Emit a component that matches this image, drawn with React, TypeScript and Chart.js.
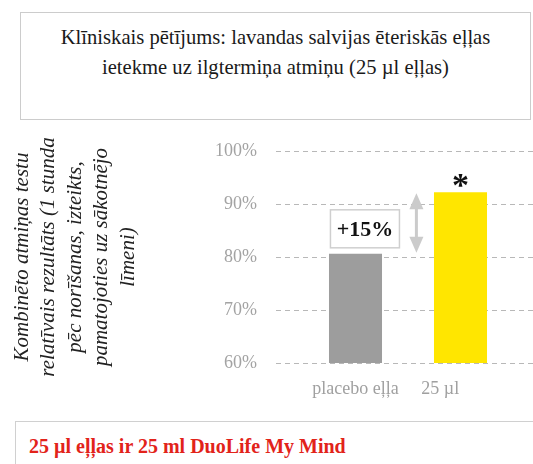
import React, { useEffect, useRef } from "react";
import { Chart, registerables } from "chart.js";

Chart.register(...registerables);

const categories = ["placebo eļļa", "25 µl"];
const values = [80.6, 92.2];
const barColors = ["#9d9d9d", "#ffe600"];
const yTicks = [60, 70, 80, 90, 100];
const yTitleLines = [
  "Kombinēto atmiņas testu",
  "relatīvais rezultāts (1 stunda",
  "pēc norīšanas, izteikts,",
  "pamatojoties uz sākotnējo",
  "līmeni)",
];
const titleLines = [
  "Klīniskais pētījums: lavandas salvijas ēteriskās eļļas",
  "ietekme uz ilgtermiņa atmiņu (25 µl eļļas)",
];
const diffLabel = "+15%";
const starLabel = "*";
const footnote = "25 µl eļļas ir 25 ml DuoLife My Mind";

const FONT = "'Liberation Serif', 'Times New Roman', serif";
const W = 533;
const H = 410;

const annotations = {
  id: "annotations",
  beforeDatasetsDraw(chart: any) {
    const { ctx, chartArea, scales } = chart;
    const y = scales.y;
    ctx.save();
    ctx.strokeStyle = "#b8b8b8";
    ctx.lineWidth = 1;
    ctx.setLineDash([5, 4]);
    for (const t of yTicks) {
      const py = Math.round(y.getPixelForValue(t)) + 0.5;
      ctx.beginPath();
      ctx.moveTo(chartArea.left - 27, py);
      ctx.lineTo(chart.width, py);
      ctx.stroke();
    }
    ctx.restore();
  },
  afterDatasetsDraw(chart: any) {
    const { ctx, scales } = chart;
    const x = scales.x;
    const y = scales.y;
    const yLow = y.getPixelForValue(values[0]);
    const yHigh = y.getPixelForValue(values[1]);

    // double arrow
    const ax = x.getPixelForValue(0.58);
    const headH = 16;
    const headW = 14;
    ctx.save();
    ctx.fillStyle = "#cbcbcb";
    ctx.strokeStyle = "#cbcbcb";
    ctx.lineWidth = 3;
    ctx.beginPath();
    ctx.moveTo(ax, yHigh + headH - 2);
    ctx.lineTo(ax, yLow - headH + 2);
    ctx.stroke();
    ctx.beginPath();
    ctx.moveTo(ax, yHigh + 1);
    ctx.lineTo(ax - headW / 2, yHigh + 1 + headH);
    ctx.lineTo(ax + headW / 2, yHigh + 1 + headH);
    ctx.closePath();
    ctx.fill();
    ctx.beginPath();
    ctx.moveTo(ax, yLow - 1);
    ctx.lineTo(ax - headW / 2, yLow - 1 - headH);
    ctx.lineTo(ax + headW / 2, yLow - 1 - headH);
    ctx.closePath();
    ctx.fill();
    ctx.restore();

    // +15% box
    const bx = x.getPixelForValue(0.09);
    const bw = 69;
    const bh = 38;
    const bBottom = yLow - 6;
    ctx.save();
    ctx.fillStyle = "#ffffff";
    ctx.strokeStyle = "#cfcfcf";
    ctx.lineWidth = 1.5;
    ctx.fillRect(bx - bw / 2, bBottom - bh, bw, bh);
    ctx.strokeRect(bx - bw / 2, bBottom - bh, bw, bh);
    ctx.fillStyle = "#111111";
    ctx.font = `bold 22px ${FONT}`;
    ctx.textAlign = "center";
    ctx.textBaseline = "middle";
    ctx.fillText(diffLabel, bx, bBottom - bh / 2 + 1);
    ctx.restore();

    // asterisk
    const sx = x.getPixelForValue(1);
    ctx.save();
    ctx.fillStyle = "#111111";
    ctx.font = `bold 34px ${FONT}`;
    ctx.textAlign = "center";
    ctx.textBaseline = "alphabetic";
    ctx.fillText(starLabel, sx, yHigh + 4);
    ctx.restore();
  },
};

function BarChart() {
  const ref = useRef<HTMLCanvasElement | null>(null);
  useEffect(() => {
    if (!ref.current) return;
    const chart = new Chart(ref.current, {
      type: "bar",
      data: {
        labels: categories,
        datasets: [
          {
            data: values,
            backgroundColor: barColors,
            borderWidth: 0,
            categoryPercentage: 1,
            barPercentage: 0.505,
          },
        ],
      },
      options: {
        responsive: false,
        animation: false,
        layout: { padding: { top: 151, right: 20, bottom: 0, left: 0 } },
        plugins: { legend: { display: false }, tooltip: { enabled: false }, title: { display: false } },
        scales: {
          x: {
            grid: { display: false, drawTicks: false },
            border: { display: false },
            ticks: {
              color: "#a0a0a0",
              font: { family: FONT, size: 18 },
              padding: 15,
              maxRotation: 0,
              autoSkip: false,
              callback: (_v: any, i: number) =>
                i === 1 ? categories[i] + "\u00a0".repeat(9) : categories[i],
            },
            afterFit: (s: any) => {
              s.height = H - 363;
            },
          },
          y: {
            min: 60,
            max: 100,
            afterBuildTicks: (s: any) => {
              s.ticks = yTicks.map((v) => ({ value: v }));
            },
            grid: { display: false, drawTicks: true, tickLength: 27 },
            border: { display: false },
            ticks: {
              color: "#a3a3a3",
              font: { family: FONT, size: 18 },
              padding: 19,
              callback: (v: any) => v + "%",
            },
            title: {
              display: true,
              text: yTitleLines,
              color: "#222222",
              font: { family: FONT, size: 21, style: "italic", lineHeight: "26.5px" },
              padding: { top: 9, bottom: 0 },
            },
            afterFit: (s: any) => {
              s.width = 303;
            },
          },
        },
      },
      plugins: [annotations],
    });
    return () => chart.destroy();
  }, []);
  return <canvas ref={ref} width={W} height={H} style={{ position: "absolute", left: 0, top: 0 }} />;
}

export default function App() {
  return (
    <div style={{ position: "absolute", left: 0, top: 0, width: 533, height: 464, overflow: "hidden", background: "#fff", fontFamily: FONT }}>
      <BarChart />
      <div
        style={{
          position: "absolute",
          left: 20,
          top: 12,
          width: 511,
          height: 108,
          border: "1px solid #cccccc",
          background: "#fff",
          textAlign: "center",
          fontSize: 20.6,
          lineHeight: "30px",
          color: "#1a1a1a",
          paddingTop: 9,
          boxSizing: "border-box",
        }}
      >
        <div>{titleLines[0]}</div>
        <div>{titleLines[1]}</div>
      </div>
      <div
        style={{
          position: "absolute",
          left: 15,
          top: 421,
          width: 600,
          height: 100,
          borderTop: "1.5px solid #d0d0d0",
          borderLeft: "1.5px solid #d0d0d0",
          color: "#e2231a",
          fontWeight: "bold",
          fontSize: 20,
          paddingLeft: 13,
          paddingTop: 13,
          lineHeight: "22px",
          whiteSpace: "nowrap",
        }}
      >
        {footnote}
      </div>
    </div>
  );
}
